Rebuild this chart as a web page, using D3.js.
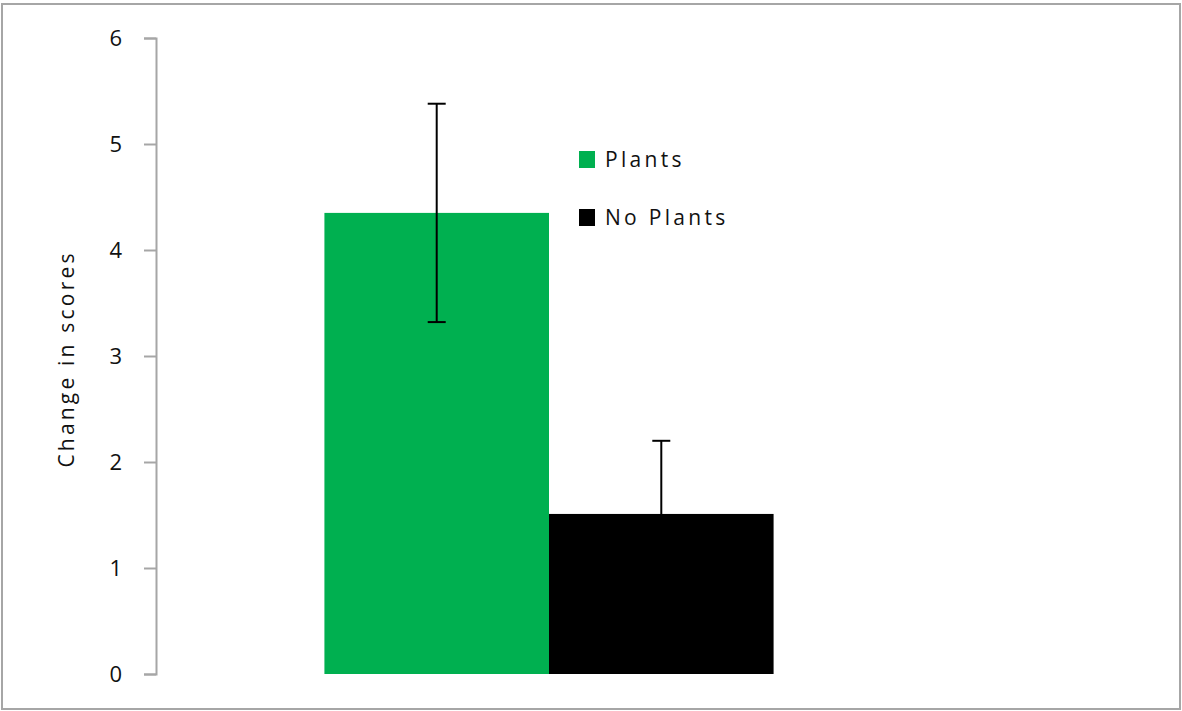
<!DOCTYPE html>
<html>
<head>
<meta charset="utf-8">
<script src="https://cdn.jsdelivr.net/npm/d3@7"></script>
<style>
  body { margin: 0; background: #fff; }
  text { font-family: "Open Sans", "Lato", sans-serif; fill: #111; }
  .y.axis path, .y.axis line { stroke: #a6a6a6; stroke-width: 2; }
</style>
</head>
<body>
<div id="chart"></div>
<script>
var categories = ["Plants", "No Plants"];
var values = [4.35, 1.51];
var errors = [1.03, 0.69];
var colors = ["#00b050", "#000000"];
var yTicks = [0, 1, 2, 3, 4, 5, 6];

var fullwidth = 1182, fullheight = 711;
var margin = {top: 38, right: 240, bottom: 37, left: 156};
var width = fullwidth - margin.left - margin.right;
var height = fullheight - margin.top - margin.bottom;

var vis = d3.select("#chart").append("svg")
    .attr("width", fullwidth)
    .attr("height", fullheight);

// outer frame
vis.append("rect")
    .attr("x", 2).attr("y", 4)
    .attr("width", 1178).attr("height", 705)
    .attr("fill", "none")
    .attr("stroke", "#a6a6a6")
    .attr("stroke-width", 2);

var svg = vis.append("g")
    .attr("transform", "translate(" + margin.left + "," + margin.top + ")");

var yScale = d3.scaleLinear().domain([0, 6]).range([height, 0]);

// one group, two series side by side
var x0 = d3.scaleBand().domain(["all"]).range([0, width]).padding(0.2727);
var x1 = d3.scaleBand().domain(categories).range([0, x0.bandwidth()]);

var yAxis = d3.axisLeft(yScale)
    .tickValues(yTicks)
    .tickSize(12)
    .tickPadding(22)
    .tickFormat(d3.format("d"));

svg.append("g")
    .attr("class", "y axis")
    .call(yAxis)
    .selectAll("text")
    .style("font-size", "22px")
    .attr("fill", "#111");

var data = categories.map(function(c, i) {
    return {name: c, value: values[i], err: errors[i], color: colors[i]};
});

var g = svg.append("g")
    .attr("transform", "translate(" + x0("all") + ",0)");

g.selectAll("rect.bar")
    .data(data)
    .enter()
    .append("rect")
    .attr("class", "bar")
    .attr("x", function(d) { return x1(d.name); })
    .attr("width", x1.bandwidth())
    .attr("y", function(d) { return yScale(d.value); })
    .attr("height", function(d) { return height - yScale(d.value); })
    .attr("fill", function(d) { return d.color; });

// error bars
var capW = 9;
var eb = g.selectAll("g.err")
    .data(data)
    .enter()
    .append("g")
    .attr("class", "err")
    .attr("stroke", "#000")
    .attr("stroke-width", 2);

eb.append("line")
    .attr("x1", function(d) { return x1(d.name) + x1.bandwidth() / 2; })
    .attr("x2", function(d) { return x1(d.name) + x1.bandwidth() / 2; })
    .attr("y1", function(d) { return yScale(d.value + d.err); })
    .attr("y2", function(d) { return yScale(d.value - d.err); });

eb.append("line")
    .attr("x1", function(d) { return x1(d.name) + x1.bandwidth() / 2 - capW; })
    .attr("x2", function(d) { return x1(d.name) + x1.bandwidth() / 2 + capW; })
    .attr("y1", function(d) { return yScale(d.value + d.err); })
    .attr("y2", function(d) { return yScale(d.value + d.err); });

eb.append("line")
    .attr("x1", function(d) { return x1(d.name) + x1.bandwidth() / 2 - capW; })
    .attr("x2", function(d) { return x1(d.name) + x1.bandwidth() / 2 + capW; })
    .attr("y1", function(d) { return yScale(d.value - d.err); })
    .attr("y2", function(d) { return yScale(d.value - d.err); });

// y axis title
vis.append("text")
    .attr("transform", "translate(74,359) rotate(-90)")
    .attr("text-anchor", "middle")
    .style("font-size", "21px")
    .style("letter-spacing", "3.2px")
    .text("Change in scores");

// legend
var legend = vis.selectAll("g.legend")
    .data(data)
    .enter()
    .append("g")
    .attr("class", "legend")
    .attr("transform", function(d, i) { return "translate(579," + (151 + i * 58) + ")"; });

legend.append("rect")
    .attr("width", 16)
    .attr("height", 17)
    .attr("fill", function(d) { return d.color; });

legend.append("text")
    .attr("x", 26)
    .attr("y", 16)
    .style("font-size", "21px")
    .style("letter-spacing", "3.3px")
    .text(function(d) { return d.name; });
</script>
</body>
</html>
